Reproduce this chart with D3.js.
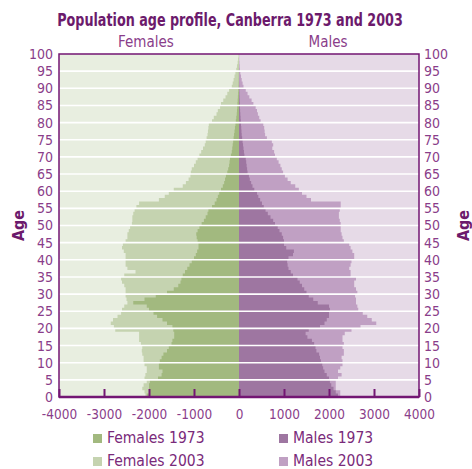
<!DOCTYPE html>
<html>
<head>
<meta charset="utf-8">
<script src="https://cdn.jsdelivr.net/npm/d3@7"></script>
<style>
  html, body { margin: 0; padding: 0; background: #ffffff; }
  svg { display: block; }
  text { font-family: "Liberation Sans Narrow", "DejaVu Sans Condensed", "Arial Narrow", sans-serif; }
</style>
</head>
<body>
<svg id="chart" width="472" height="469"></svg>
<script>
// ---- Data (single-year ages 0..100) ----
const ages = d3.range(0, 101);

const females1973 = [
  2050,2000,2000,2000,1980,1800,1720,1700,1780,1780,
  1760,1720,1680,1600,1560,1500,1480,1440,1440,1460,
  1480,1600,1700,1820,1900,2000,2050,2350,2100,1850,
  1600,1450,1350,1300,1280,1250,1200,1150,1100,1050,
  1000,960,930,900,900,920,940,950,920,880,
  830,780,740,700,680,600,540,500,470,440,
  400,360,330,310,290,260,240,220,210,200,
  180,160,150,140,130,120,110,100,90,80,
  70,60,50,45,40,35,30,25,20,15,
  10,8,6,5,4,3,2,1,0,0,0
];

const females2003 = [
  2080,2100,2150,2120,2050,2100,2080,2050,2050,2100,
  2120,2120,2150,2160,2150,2180,2220,2220,2220,2750,
  2780,2850,2800,2700,2620,2600,2550,2480,2500,2520,
  2520,2520,2550,2600,2620,2550,2300,2480,2520,2520,
  2520,2520,2560,2600,2580,2520,2480,2480,2450,2420,
  2380,2370,2370,2350,2320,2280,2220,1780,1650,1560,
  1450,1250,1180,1120,1080,1070,1050,1000,960,920,
  880,840,800,760,740,720,700,690,680,670,
  600,560,500,470,420,400,350,300,260,220,
  160,140,120,100,80,60,45,30,20,10,10
];

const males1973 = [
  2200,2150,2100,2050,2020,2000,1950,1900,1870,1850,
  1820,1800,1780,1720,1700,1670,1620,1520,1480,1550,
  1800,1900,1950,2000,2000,2020,2000,1750,1650,1550,
  1500,1450,1400,1350,1300,1200,1150,1100,1080,1070,
  1100,1200,1220,1050,1000,1000,980,950,900,860,
  800,760,700,640,590,550,510,470,430,400,
  340,300,270,240,220,190,180,170,160,150,
  120,110,100,90,80,70,60,55,50,45,
  40,35,30,25,20,18,15,12,10,8,
  5,4,3,2,1,0,0,0,0,0,0
];

const males2003 = [
  2250,2250,2150,2150,2150,2200,2280,2200,2250,2300,
  2300,2280,2330,2330,2300,2330,2300,2300,2350,2500,
  2700,3050,2950,2850,2750,2650,2630,2600,2600,2580,
  2630,2600,2560,2560,2600,2480,2480,2450,2480,2500,
  2560,2560,2520,2480,2450,2330,2300,2280,2260,2260,
  2260,2240,2220,2220,2240,2260,2260,1600,1500,1400,
  1330,1250,1150,1080,1020,980,950,920,880,840,
  800,780,740,760,730,620,580,570,560,540,
  480,450,420,400,370,320,280,230,190,150,
  100,80,60,45,30,20,15,10,5,5,5
];

const xTickValues = [-4000,-3000,-2000,-1000,0,1000,2000,3000,4000];
const xTickLabels = ["-4000","-3000","-2000","-1000","0","1000","2000","3000","4000"];
const yTickValues = d3.range(0, 101, 5);
const gridAges = d3.range(5, 100, 5);

const seriesNames = ["Females 1973","Males 1973","Females 2003","Males 2003"];

// ---- Styles ----
const C = {
  fBg: "#e8eee0", mBg: "#e6dae7",
  f2003: "#c5d3b0", f1973: "#a2b97f",
  m2003: "#c0a0c3", m1973: "#9e76a1",
  axis: "#731673", title: "#6c1a6c", label: "#8a3d8a", legend: "#7a2a7a"
};
const FONT = '"Liberation Sans Narrow", "DejaVu Sans Condensed", sans-serif';

const svg = d3.select("#chart");
const plot = { left: 59, right: 419, top: 54, bottom: 397 };

const x = d3.scaleLinear().domain([-4000, 4000]).range([plot.left, plot.right]);
const y = d3.scaleLinear().domain([0, 100]).range([plot.bottom, plot.top]);

// Backgrounds
svg.append("rect").attr("x", x(-4000)).attr("y", y(100))
  .attr("width", x(0) - x(-4000)).attr("height", y(0) - y(100)).attr("fill", C.fBg);
svg.append("rect").attr("x", x(0)).attr("y", y(100))
  .attr("width", x(4000) - x(0)).attr("height", y(0) - y(100)).attr("fill", C.mBg);

// Areas (stepped by single year of age)
function toPts(vals, sign) {
  const pts = ages.map((a, i) => ({ age: a, v: sign * vals[i] }));
  pts.push({ age: 100.999, v: sign * vals[vals.length - 1] });
  return pts;
}
const area = d3.area()
  .y(d => y(Math.min(d.age, 100)))
  .x0(() => x(0))
  .x1(d => x(d.v))
  .curve(d3.curveStepBefore);

svg.append("path").datum(toPts(females2003, -1)).attr("d", area).attr("fill", C.f2003);
svg.append("path").datum(toPts(females1973, -1)).attr("d", area).attr("fill", C.f1973);
svg.append("path").datum(toPts(males2003, 1)).attr("d", area).attr("fill", C.m2003);
svg.append("path").datum(toPts(males1973, 1)).attr("d", area).attr("fill", C.m1973);

// Gridlines
svg.append("g").selectAll("line").data(gridAges).join("line")
  .attr("x1", x(-4000)).attr("x2", x(4000))
  .attr("y1", d => y(d)).attr("y2", d => y(d))
  .attr("stroke", "#ffffff").attr("stroke-width", 1.6);

// Frame
svg.append("rect").attr("x", x(-4000)).attr("y", y(100))
  .attr("width", x(4000) - x(-4000)).attr("height", y(0) - y(100))
  .attr("fill", "none").attr("stroke", C.axis).attr("stroke-width", 1.5);
svg.append("line").attr("x1", x(-4000)).attr("x2", x(4000))
  .attr("y1", y(0)).attr("y2", y(0)).attr("stroke", C.axis).attr("stroke-width", 2.5);

// X axis
const xAxis = d3.axisBottom(x).tickValues(xTickValues)
  .tickFormat((d, i) => xTickLabels[i]).tickSize(-8).tickSizeOuter(0).tickPadding(12);
const gx = svg.append("g").attr("transform", `translate(0,${y(0)})`).call(xAxis);
gx.select(".domain").remove();
gx.selectAll(".tick line").attr("stroke", C.axis).attr("stroke-width", 2);
gx.selectAll(".tick text").attr("fill", C.label).attr("font-size", 13.5)
  .style("font-family", FONT);

// Y axes
const yl = svg.append("g").attr("transform", `translate(${x(-4000)},0)`)
  .call(d3.axisLeft(y).tickValues(yTickValues).tickSize(0).tickPadding(6));
const yr = svg.append("g").attr("transform", `translate(${x(4000)},0)`)
  .call(d3.axisRight(y).tickValues(yTickValues).tickSize(0).tickPadding(5));
[yl, yr].forEach(g => {
  g.select(".domain").remove();
  g.selectAll(".tick text").attr("fill", C.label).attr("font-size", 14)
    .style("font-family", FONT);
});

// Title (horizontally condensed to the reference width)
const titleG = svg.append("g");
const title = titleG.append("text").attr("x", 0).attr("y", 0).attr("text-anchor", "middle")
  .attr("font-size", 17.5).attr("font-weight", "bold").attr("fill", C.title)
  .text("Population age profile, Canberra 1973 and 2003");
const natW = title.node().getComputedTextLength() || 346;
const sx = Math.min(1, 346 / natW);
titleG.attr("transform", `translate(230,26) scale(${sx},1)`);

// Side labels
svg.append("text").attr("x", 146).attr("y", 47).attr("text-anchor", "middle")
  .attr("font-size", 15).attr("fill", C.label).text("Females");
svg.append("text").attr("x", 328).attr("y", 47).attr("text-anchor", "middle")
  .attr("font-size", 15).attr("fill", C.label).text("Males");

// Age labels
[18, 463].forEach(px => {
  svg.append("text").attr("transform", `translate(${px + 6},${y(50)}) rotate(-90)`)
    .attr("text-anchor", "middle").attr("font-size", 16).attr("font-weight", "bold")
    .attr("fill", C.title).text("Age");
});

// Legend
const legendColors = [C.f1973, C.m1973, C.f2003, C.m2003];
const legendPos = [[93, 443], [279, 443], [93, 466], [279, 466]];
seriesNames.forEach((name, i) => {
  const [lx, ly] = legendPos[i];
  svg.append("rect").attr("x", lx).attr("y", ly - 9).attr("width", 9).attr("height", 9)
    .attr("fill", legendColors[i]);
  svg.append("text").attr("x", lx + 14).attr("y", ly).attr("font-size", 15.5)
    .attr("fill", C.legend).text(name);
});
</script>
</body>
</html>
